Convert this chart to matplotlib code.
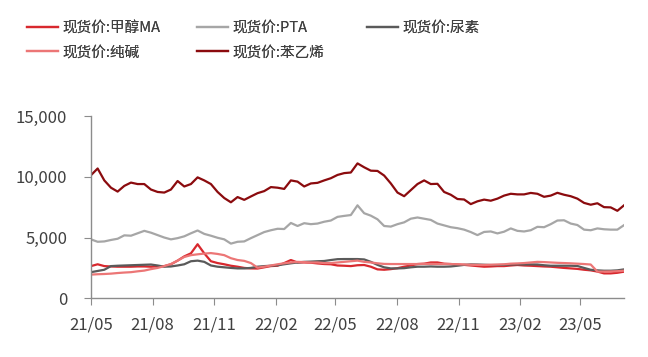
import numpy as np
import pandas as pd
import matplotlib
matplotlib.use('Agg')
import matplotlib.pyplot as plt
import matplotlib.dates as mdates
from matplotlib.ticker import FuncFormatter

plt.rcParams['font.family'] = ['Noto Sans CJK SC', 'DejaVu Sans']

# spot prices, sampled about every 10 days from 2021-05 to 2023-07
dates = pd.date_range('2021-05-01', '2023-07-06', periods=81)

methanol = [2650, 2800, 2650, 2620, 2600, 2600, 2600, 2620, 2620, 2600,
            2630, 2650, 2800, 3100, 3450, 3700, 4450, 3700, 3050, 2900,
            2800, 2680, 2600, 2500, 2460, 2450, 2550, 2650, 2680, 2900,
            3150, 2950, 2950, 2930, 2870, 2820, 2800, 2700, 2680, 2650,
            2720, 2740, 2600, 2380, 2350, 2400, 2480, 2600, 2700, 2820,
            2850, 2950, 2950, 2850, 2820, 2780, 2750, 2700, 2650, 2600,
            2620, 2650, 2650, 2700, 2740, 2700, 2680, 2650, 2620, 2600,
            2550, 2500, 2460, 2420, 2350, 2300, 2200, 2050, 2050, 2100,
            2190]

pta = [4850, 4650, 4680, 4800, 4900, 5180, 5150, 5350, 5550, 5400,
       5200, 5000, 4850, 4950, 5100, 5350, 5580, 5300, 5150, 4980,
       4850, 4500, 4650, 4680, 4950, 5200, 5450, 5600, 5720, 5700,
       6200, 5950, 6180, 6100, 6150, 6300, 6400, 6700, 6780, 6850,
       7650, 7000, 6800, 6500, 5950, 5900, 6100, 6250, 6550, 6650,
       6550, 6450, 6150, 6000, 5850, 5770, 5650, 5450, 5200, 5460,
       5500, 5340, 5480, 5750, 5550, 5500, 5600, 5880, 5850, 6100,
       6400, 6420, 6150, 6030, 5650, 5600, 5750, 5680, 5650, 5650,
       6020]

urea = [2150, 2250, 2350, 2650, 2680, 2700, 2720, 2740, 2760, 2780,
        2700, 2600, 2620, 2700, 2800, 3050, 3100, 3000, 2700, 2600,
        2550, 2500, 2460, 2460, 2500, 2600, 2650, 2680, 2720, 2800,
        2880, 2950, 3000, 3020, 3050, 3070, 3150, 3220, 3230, 3230,
        3230, 3200, 3000, 2750, 2550, 2460, 2460, 2480, 2550, 2600,
        2600, 2620, 2600, 2600, 2620, 2680, 2750, 2790, 2780, 2760,
        2740, 2740, 2750, 2780, 2790, 2780, 2790, 2780, 2720, 2680,
        2680, 2680, 2680, 2660, 2500, 2350, 2300, 2270, 2270, 2300,
        2380]

soda_ash = [1950, 1980, 2000, 2030, 2080, 2120, 2150, 2220, 2280, 2400,
            2500, 2650, 2820, 3100, 3400, 3550, 3620, 3680, 3720, 3650,
            3550, 3300, 3150, 3080, 2900, 2520, 2600, 2700, 2800, 2880,
            2950, 3000, 2980, 2950, 2950, 2900, 2900, 2950, 3000, 3050,
            3100, 3000, 2950, 2880, 2830, 2820, 2820, 2820, 2820, 2820,
            2830, 2830, 2820, 2820, 2820, 2800, 2780, 2760, 2750, 2740,
            2760, 2780, 2800, 2850, 2870, 2900, 2950, 3000, 2980, 2950,
            2920, 2900, 2880, 2850, 2820, 2780, 2200, 2200, 2210, 2230,
            2270]

styrene = [10130, 10680, 9700, 9100, 8780, 9250, 9520, 9400, 9400, 8950,
           8750, 8700, 8950, 9650, 9200, 9400, 9950, 9700, 9400, 8750,
           8250, 7900, 8330, 8100, 8380, 8650, 8820, 9150, 9100, 9000,
           9700, 9600, 9200, 9450, 9500, 9700, 9880, 10150, 10300, 10350,
           11100, 10780, 10500, 10480, 10100, 9450, 8700, 8400, 8900, 9400,
           9700, 9400, 9420, 8750, 8520, 8170, 8130, 7750, 7980, 8120,
           8030, 8200, 8450, 8600, 8550, 8550, 8670, 8600, 8350, 8450,
           8680, 8520, 8400, 8200, 7850, 7700, 7820, 7500, 7480, 7200,
           7650]

labels = ['现货价:甲醇MA', '现货价:PTA', '现货价:尿素', '现货价:纯碱', '现货价:苯乙烯']
colors = ['#D8282E', '#A6A6A6', '#5A5A5A', '#EC7676', '#8B0B0E']
series = [methanol, pta, urea, soda_ash, styrene]

fig = plt.figure(figsize=(6.48, 3.57), dpi=100)
ax = fig.add_axes([0.1404, 0.1644, 0.8226, 0.5107])

lines = {}
for name, vals, c in zip(labels, series, colors):
    lines[name], = ax.plot(dates, vals, color=c, lw=1.6)

ax.set_xlim(dates[0], dates[-1])
ax.set_ylim(0, 15000)
ax.set_yticks([0, 5000, 10000, 15000])
ax.yaxis.set_major_formatter(FuncFormatter(lambda v, p: f'{int(v):,}'))

ticks = pd.date_range('2021-05-01', '2023-05-01', freq='3MS')
ax.set_xticks(ticks)
ax.xaxis.set_major_formatter(mdates.DateFormatter('%y/%m'))

for s in ['top', 'right']:
    ax.spines[s].set_visible(False)
for s in ['left', 'bottom']:
    ax.spines[s].set_color('#8C8C8C')
    ax.spines[s].set_linewidth(1.0)
ax.tick_params(axis='both', colors='#8C8C8C', labelcolor='#404040',
               labelsize=12, length=5, direction='out')
ax.tick_params(axis='y', pad=12)
ax.tick_params(axis='x', pad=8)

# one legend per column so the columns sit at even spacing
columns = [['现货价:甲醇MA', '现货价:纯碱'], ['现货价:PTA', '现货价:苯乙烯'], ['现货价:尿素']]
col_x = [27, 197, 367]
for names, x in zip(columns, col_x):
    leg = fig.legend([lines[k] for k in names], names, loc='upper left',
                     bbox_to_anchor=(x / 648, 1 - 21 / 357), frameon=False,
                     fontsize=10.5, handlelength=2.1, handletextpad=0.3,
                     labelspacing=0.7, borderpad=0, borderaxespad=0,
                     labelcolor='#404040')
    fig.add_artist(leg)

fig.savefig('out.png', dpi=100)
